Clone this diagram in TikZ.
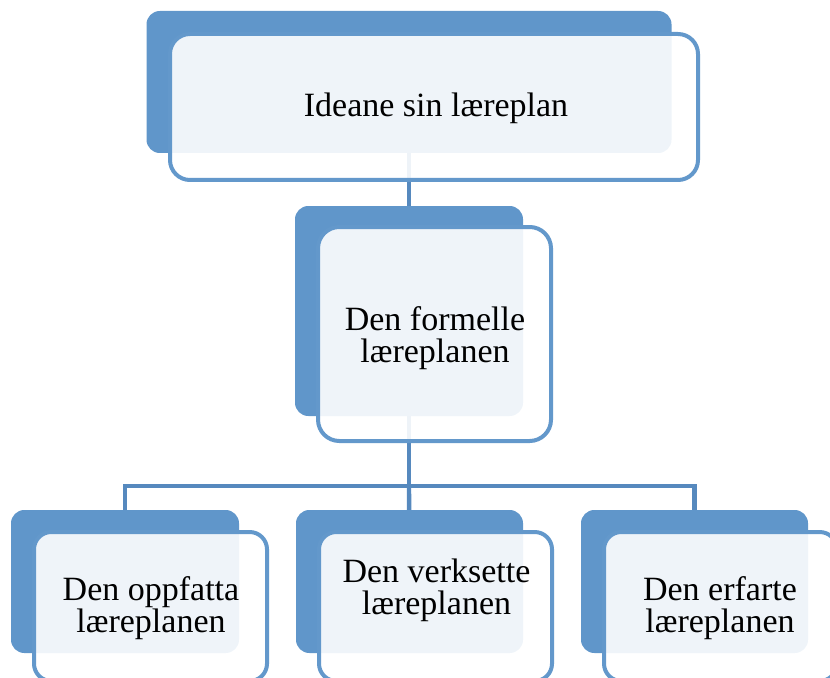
\documentclass[tikz,border=0pt]{standalone}
\usepackage{fontspec}
\setmainfont{Liberation Serif}
\usetikzlibrary{backgrounds}
\definecolor{boxblue}{HTML}{6096CA}
\definecolor{edgeblue}{HTML}{6398CB}
\definecolor{linkblue}{HTML}{5689BE}
\begin{document}
\begin{tikzpicture}[x=0.75pt,y=-0.75pt,
  backbox/.style={fill=boxblue, rounded corners=10pt, inner sep=0pt},
  frontbox/.style={draw=edgeblue, line width=3pt, fill=white, fill opacity=0.9,
    rounded corners=13pt, inner sep=0pt},
  link/.style={draw=linkblue, line width=3.3pt},
  label/.style={font=\fontsize{25.5pt}{24pt}\selectfont, align=center,
    anchor=base, inner sep=0pt}]
\clip (0,0) rectangle (830,677);

% dark back panels (positions in px, sizes in pt = px * 0.75)
\path
  node[backbox, minimum width=393.75pt, minimum height=106.5pt] (b0) at (409,82) {}
  node[backbox, minimum width=171pt, minimum height=157.5pt] (b1) at (409,311) {}
  node[backbox, minimum width=171pt, minimum height=107.25pt] (b2) at (125,581.5) {}
  node[backbox, minimum width=170.25pt, minimum height=107.25pt] (b3) at (409.5,581.5) {}
  node[backbox, minimum width=170.25pt, minimum height=107.25pt] (b4) at (694.5,581.5) {};

% connectors run underneath all panels
\coordinate (bus) at (409,486);
\begin{pgfonlayer}{background}
  \draw[link] (b0.center) -- (b1.center);
  \draw[link] (b1.center) -- (bus);
  \draw[link] (b2.center) |- (bus) -| (b4.center);
  \draw[link] (bus) -- (b3.center);
\end{pgfonlayer}

% light front panels
\path
  node[frontbox, rounded corners=15pt, minimum width=396pt, minimum height=109.5pt] (f0) at (434,107) {}
  node[frontbox, rounded corners=16pt, minimum width=174.75pt, minimum height=160.5pt] (f1) at (434.5,334) {}
  node[frontbox, minimum width=174.75pt, minimum height=111.75pt] (f2) at (150.5,606.5) {}
  node[frontbox, minimum width=174.75pt, minimum height=111.75pt] (f3) at (435.5,606.5) {}
  node[frontbox, minimum width=174.75pt, minimum height=111.75pt] (f4) at (720.5,606.5) {};

% labels (anchored on the baseline of the last line)
\node[label] (t0) at (436,117) {Ideane sin læreplan};
\node[label] (t1) at (435,362) {Den formelle\\læreplanen};
\node[label] (t2) at (151,632) {Den oppfatta\\læreplanen};
\node[label] (t3) at (436.5,614) {Den verksette\\læreplanen};
\node[label] (t4) at (720,632) {Den erfarte\\læreplanen};
\end{tikzpicture}
\end{document}
